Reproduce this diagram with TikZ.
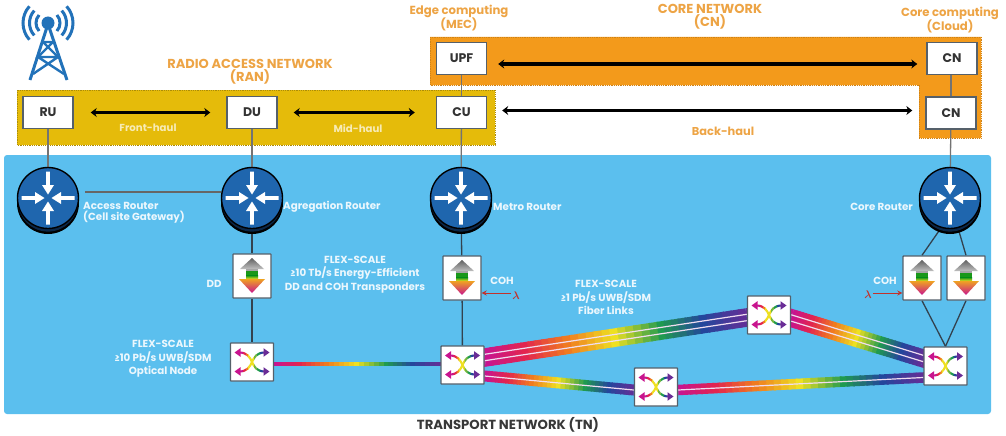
\documentclass[tikz,border=0pt]{standalone}
\usepackage{fontspec}
\setmainfont{Poppins}
\usetikzlibrary{calc,arrows.meta}
\definecolor{skyb}{HTML}{5BBFEE}
\definecolor{ranY}{HTML}{E5BB0A}
\definecolor{cnO}{HTML}{F39A1B}
\definecolor{txtO}{HTML}{EDA445}
\definecolor{rtB}{HTML}{1F66AE}
\definecolor{rtD}{HTML}{0B2748}
\definecolor{towerB}{HTML}{2272B9}
\definecolor{lineD}{HTML}{33424F}
\definecolor{boxE}{HTML}{55606A}
\definecolor{redL}{HTML}{C2322C}
\definecolor{pale}{HTML}{F0DDF0}
\definecolor{fa}{HTML}{C8148E}
\definecolor{fb}{HTML}{E2254F}
\definecolor{fc}{HTML}{F07A20}
\definecolor{fd}{HTML}{EEE022}
\definecolor{fe}{HTML}{1F9A50}
\definecolor{ff}{HTML}{24469C}
\definecolor{fg}{HTML}{6A2C96}
\pgfdeclarelayer{under}
\pgfsetlayers{under,main}
\tikzset{
  unitbox/.style={draw=boxE,line width=1.4pt,fill=white,minimum width=50pt,minimum height=32pt,inner sep=0pt,text=black!80,font=\fontsize{12.5}{14}\selectfont\bfseries},
  tpbox/.style={draw=boxE,line width=1.4pt,fill=white,minimum width=38pt,minimum height=44pt,inner sep=0pt,rounded corners=0.5pt},
  swbox/.style={draw=boxE,line width=1.4pt,fill=white,minimum width=43pt,minimum height=38pt,inner sep=0pt,rounded corners=0.5pt},
  routernode/.style={circle,draw=black,line width=1.4pt,fill=rtB,minimum size=61pt,inner sep=0pt},
  conn/.style={draw=lineD,line width=1.3pt},
  connup/.style={draw=black!55,line width=1.3pt},
  hauls/.style={draw=black,line width=3.1pt,{Stealth[length=6pt,width=9pt]}-{Stealth[length=6pt,width=9pt]}},
  redarrow/.style={draw=redL,line width=0.9pt,-{Stealth[length=5pt,width=5pt]}},
  lamb/.style={text=redL,inner sep=0pt,font=\fontsize{11}{12}\selectfont},
  ontitle/.style={text=txtO,align=center,inner sep=0pt,font=\fontsize{13}{10}\selectfont\bfseries},
  onlower/.style={text=txtO,align=center,inner sep=0pt,font=\fontsize{11.7}{10.5}\selectfont\bfseries},
  onblue/.style={text=white!88!skyb,align=center,inner sep=0pt,font=\fontsize{10.3}{13.5}\selectfont\bfseries},
  hauln/.style={inner sep=0pt,font=\fontsize{10.2}{10}\selectfont\bfseries},
  paleln/.style={draw=pale,line width=1.2pt},
}
\newcommand\fiber[3]{%
  \draw[draw=fa,line width=#3] ($(#1)!-0.04!(#2)$) -- (#1);
  \draw[draw=fg,line width=#3] (#2) -- ($(#1)!1.04!(#2)$);
  \foreach \ta/\tb/\ca/\cb in {0/14/fa/fb,14/30/fb/fc,30/48/fc/fd,48/66/fd/fe,66/82/fe/ff,82/100/ff/fg}{
    \foreach \s in {0,...,5}{
      \pgfmathsetmacro\tu{(\ta+(\tb-\ta)*\s/6)/100}
      \pgfmathsetmacro\tv{min(1,(\ta+(\tb-\ta)*(\s+1.25)/6)/100)}
      \pgfmathsetmacro\mixp{100-\s*100/6}
      \draw[draw={\ca!\mixp!\cb},line width=#3] ($(#1)!\tu!(#2)$) -- ($(#1)!\tv!(#2)$);
    }
  }%
}
\newcommand\router[2]{%
  \fill[black] ($(#2)+(0,5)$) circle (31);
  \fill[rtD] ($(#2)+(0,3.6)$) circle (30);
  \node[routernode] (#1) at (#2) {};
  \begin{scope}[shift={(#1.center)}]
    \foreach \ang in {0,90,180,270}{
      \fill[white,rotate=\ang] (-1.8,-26.5) -- (1.8,-26.5) -- (1.8,-13) -- (6,-13) -- (0,-3.5) -- (-6,-13) -- (-1.8,-13) -- cycle;
    }
  \end{scope}%
}
\newcommand\transp[2]{%
  \node[tpbox] (#1) at (#2) {};
  \begin{scope}[shift={(#1.center)}]
    \shade[top color=black!62,bottom color=black!25] (0,-18) -- (12,-7) -- (-12,-7) -- cycle;
    \fill[black!35] (-6,-7) rectangle (6,-5);
    \fill[green!55!black!90] (-6,-5) rectangle (6,-0.5);
    \shade[top color=green!55!black!90,bottom color=fd] (-6,-0.5) rectangle (6,3);
    \shade[top color=fc!60!fd,middle color=fb!70!fc,bottom color=fa] (-13,3) -- (13,3) -- (0,17) -- cycle;
  \end{scope}%
}
\newcommand\swicon[2]{%
  \node[swbox] (#1) at (#2) {};
  \begin{scope}[shift={(#1.center)}]
    \foreach \sg in {-1,1}{
      \foreach \xa/\xb/\cc in {-18/-8.6/fa,-9/-5.6/fb,-6/-3.6/fc,-4/2.4/fd,2/5.4/fe!60!fd,5/8.4/fe,8/11.4/ff,11/18/fg}{
        \begin{scope}
          \clip (\xa,-14) rectangle (\xb,14);
          \draw[draw=\cc,line width=2.1pt] (-13,\sg*9.5) .. controls (4,\sg*9.5) and (-4,-\sg*9.5) .. (13,-\sg*9.5);
        \end{scope}
      }
      \fill[fa] (-17.5,\sg*9.5) -- (-11.5,\sg*9.5-4.3) -- (-11.5,\sg*9.5+4.3) -- cycle;
      \fill[fg] (17.5,\sg*9.5) -- (11.5,\sg*9.5-4.3) -- (11.5,\sg*9.5+4.3) -- cycle;
    }
  \end{scope}%
}
\begin{document}
\begin{tikzpicture}[x=1pt,y=-1pt]
\useasboundingbox (0,0) rectangle (1006,436);
% unit boxes
\node[unitbox] (ru) at (48,112.5) {RU};
\node[unitbox] (du) at (252,112.5) {DU};
\node[unitbox] (cu) at (461.5,112.5) {CU};
\node[unitbox] (upf) at (461.5,58.5) {UPF};
\node[unitbox] (cnt) at (952,58.5) {CN};
\node[unitbox] (cnb) at (951,113) {CN};
% routers
\router{rta}{48,198}
\router{rtb}{252,198}
\router{rtc}{461,198}
\router{rtd}{950,198}
% transponders
\transp{tdd}{252,276}
\transp{tcm}{462,278}
\transp{tcl}{922,278}
\transp{tcr}{966,278}
% switches
\swicon{swa}{252,362}
\swicon{swm}{462.5,365}
\swicon{swu}{769,315}
\swicon{swl}{656,387}
\swicon{swc}{945.5,366}
% texts
\node[ontitle] (tran) at (250,72) {RADIO ACCESS NETWORK\\(RAN)};
\node[onlower] (tmec) at (459,18) {Edge computing\\(MEC)};
\node[ontitle] (tcn) at (710,17) {CORE NETWORK\\(CN)};
\node[onlower] (tcloud) at (950,20) {Core computing\\(Cloud)};
\node[hauln,text=white!70!ranY] (hfront) at (148,128) {Front-haul};
\node[hauln,text=white!70!ranY] (hmid) at (358,128) {Mid-haul};
\node[hauln,text=txtO,font=\fontsize{11.4}{12}\selectfont\bfseries] (hback) at (723,131) {Back-haul};
\node[onblue,align=left,anchor=west,font=\fontsize{10.3}{11}\selectfont\bfseries] (lacc) at (83,212.5) {Access Router\\(Cell site Gateway)};
\node[onblue,anchor=west] (lagg) at (283,207) {Agregation Router};
\node[onblue,anchor=west] (lmet) at (493,207) {Metro Router};
\node[onblue,anchor=east] (lcor) at (913,207) {Core Router};
\node[onblue] (ldd) at (214,284) {DD};
\node[onblue] (lcoha) at (502,281) {COH};
\node[onblue] (lcohb) at (885,281) {COH};
\node[onblue] (ftr) at (355,274.5) {FLEX-SCALE\\≥10 Tb/s Energy-Efficient\\DD and COH Transponders};
\node[onblue] (ffb) at (606,297.5) {FLEX-SCALE\\≥1 Pb/s UWB/SDM\\Fiber Links};
\node[onblue] (fon) at (163,359) {FLEX-SCALE\\≥10 Pb/s UWB/SDM\\Optical Node};
\node[inner sep=0pt,text=black!78,font=\fontsize{13.2}{14}\selectfont\bfseries] (ttn) at (508,425) {TRANSPORT NETWORK (TN)};
\node[lamb] (lama) at (516,296) {{\boldmath$\lambda$}};
\node[lamb] (lamb) at (868,295) {{\boldmath$\lambda$}};
\draw[redarrow] (lama.west |- 0,293) ++(-1,0) -- (tcm.east |- 0,293);
\draw[redarrow] (lamb.east |- 0,293) ++(1,0) -- (tcl.west |- 0,293);
% tower icon
\coordinate (twr) at (48,23);
\begin{scope}[draw=towerB,line width=3pt]
  \foreach \rr in {12,18.5,25}{
    \draw ([shift={(-42:\rr)}]twr) arc[start angle=-42,end angle=42,radius=\rr];
    \draw ([shift={(138:\rr)}]twr) arc[start angle=138,end angle=222,radius=\rr];
  }
  \draw[line join=round] (30,80) -- (47,27) -- (49,27) -- (67,80);
  \draw[line width=2.4pt] (43,42) -- (53,42) (43,42) -- (58,57) -- (38,57) -- (53,42)
    (38,57) -- (64,74) (58,57) -- (33,74);
\end{scope}
\fill[towerB] (twr) circle (6.5);
% background layer
\begin{pgfonlayer}{under}
  \fill[skyb,rounded corners=3pt] (4,155) rectangle (991,414);
  \draw[fill=ranY,draw=ranY!75!black,densely dotted,line width=0.8pt] (17,90) rectangle (495,145);
  \draw[fill=cnO,draw=cnO!85!black,densely dotted,line width=0.8pt] (430,37) -- (981,37) -- (981,138) -- (919,138) -- (919,85) -- (430,85) -- cycle;
  % hauls
  \draw[hauls,shorten <=17pt,shorten >=16pt] (ru) -- (du);
  \draw[hauls,shorten <=16pt,shorten >=21pt] (du) -- (cu);
  \coordinate (upfr) at ($(upf.east)+(0,5.5)$);
  \coordinate (cntl) at ($(cnt.west)+(0,5.5)$);
  \draw[hauls,shorten <=11pt,shorten >=9pt] (upfr) -- (cntl);
  \coordinate (cur) at ($(cu.east)+(0,-2)$);
  \coordinate (cnbl) at ($(cnb.west)+(0,-2.5)$);
  \draw[hauls,shorten <=15pt,shorten >=13pt] (cur) -- (cnbl);
  % connectors
  \draw[connup] (ru) -- (rta);
  \draw[connup] (du) -- (rtb);
  \draw[connup] (cu) -- (rtc);
  \draw[connup] (upf) -- (cu);
  \draw[connup] (cnt.south -| cnb) -- (cnb);
  \draw[connup] (cnb) -- (rtd);
  \coordinate (rag) at ($(rta.east)+(6,-6)$);
  \coordinate (rbg) at ($(rtb.west)+(0,-6)$);
  \draw[conn,draw=black!60] (rag) -- (rbg);
  \draw[conn] (rtb) -- (tdd);
  \draw[conn] (tdd) -- (swa);
  \draw[conn] (rtc) -- (tcm);
  \draw[conn] (tcm) -- (swm);
  \draw[conn] (rtd.center) ++(-9,30) -- (tcl.north);
  \draw[conn] (rtd.center) ++(8,30) -- (tcr.north);
  \draw[conn] (tcl.south) -- (swc.north);
  \draw[conn] (tcr.south) -- (swc.north);
  % fibres
  \coordinate (a1) at ($(swa.east)+(0,2)$);
  \coordinate (a2) at ($(swm.west)+(0,-1)$);
  \fiber{a1}{a2}{4pt}
  \coordinate (m1) at ($(swm.east)+(0,-7.5)$);
  \coordinate (u1) at ($(swu.west)+(0,2.5)$);
  \fiber{m1}{u1}{18.5pt}
  \draw[paleln] ($(m1)+(0,-3.2)$) -- ($(u1)+(0,-3.2)$);
  \draw[paleln] ($(m1)+(0,3.2)$) -- ($(u1)+(0,3.2)$);
  \coordinate (u2) at ($(swu.east)+(0,3)$);
  \coordinate (c1) at ($(swc.west)+(0,-7.5)$);
  \fiber{u2}{c1}{18pt}
  \draw[paleln] ($(u2)+(0,-3.2)$) -- ($(c1)+(0,-3.2)$);
  \draw[paleln] ($(u2)+(0,3.2)$) -- ($(c1)+(0,3.2)$);
  \coordinate (m2) at ($(swm.east)+(0,11)$);
  \coordinate (l1) at ($(swl.west)+(0,3)$);
  \fiber{m2}{l1}{11pt}
  \draw[paleln] (m2) -- (l1);
  \coordinate (l2) at ($(swl.east)+(0,3)$);
  \coordinate (c2) at ($(swc.west)+(0,11.5)$);
  \fiber{l2}{c2}{10.5pt}
  \draw[paleln] (l2) -- (c2);
\end{pgfonlayer}
\end{tikzpicture}
\end{document}
